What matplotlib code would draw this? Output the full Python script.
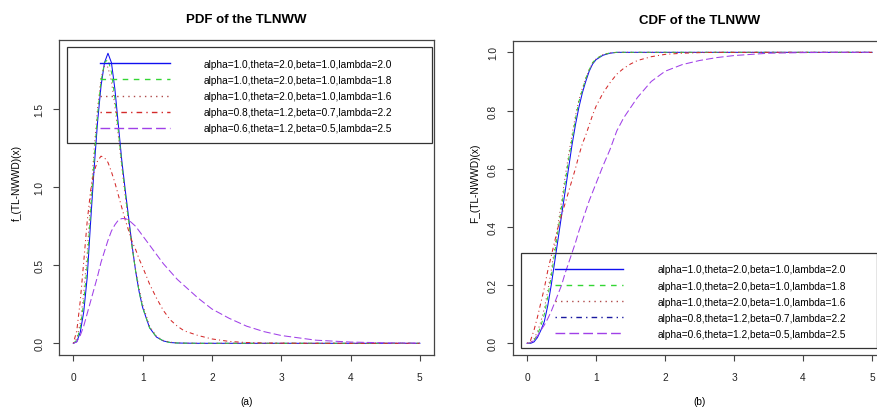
import matplotlib
matplotlib.use("Agg")
import matplotlib.pyplot as plt
from matplotlib.lines import Line2D
from matplotlib.patches import Rectangle

plt.rcParams['font.family'] = ['Liberation Sans', 'DejaVu Sans']

# x grid the values were read at
x = [0.0, 0.05, 0.1, 0.15, 0.2, 0.25, 0.3, 0.35, 0.4, 0.45, 0.5, 0.55, 0.6,
     0.65, 0.7, 0.75, 0.8, 0.85, 0.9, 0.95, 1.0, 1.1, 1.2, 1.3, 1.4, 1.5,
     1.6, 1.8, 2.0, 2.25, 2.5, 2.75, 3.0, 3.5, 4.0, 4.5, 5.0]

labels = ["alpha=1.0,theta=2.0,beta=1.0,lambda=2.0",
          "alpha=1.0,theta=2.0,beta=1.0,lambda=1.8",
          "alpha=1.0,theta=2.0,beta=1.0,lambda=1.6",
          "alpha=0.8,theta=1.2,beta=0.7,lambda=2.2",
          "alpha=0.6,theta=1.2,beta=0.5,lambda=2.5"]

# PDF readings
pdf1 = [0, 0.01, 0.07, 0.2, 0.42, 0.78, 1.12, 1.42, 1.65, 1.8, 1.86, 1.8, 1.63,
        1.4, 1.17, 0.98, 0.8, 0.62, 0.46, 0.33, 0.23, 0.1, 0.04, 0.015, 0.005, 0.002,
        0.001, 0, 0, 0, 0, 0, 0, 0, 0, 0, 0]
pdf2 = [0, 0.02, 0.1, 0.26, 0.5, 0.85, 1.18, 1.47, 1.68, 1.8, 1.82, 1.74, 1.57,
        1.36, 1.15, 0.96, 0.78, 0.61, 0.46, 0.33, 0.23, 0.1, 0.04, 0.015, 0.005, 0.002,
        0.001, 0, 0, 0, 0, 0, 0, 0, 0, 0, 0]
pdf3 = [0, 0.03, 0.13, 0.32, 0.58, 0.92, 1.24, 1.51, 1.7, 1.78, 1.77, 1.68, 1.52,
        1.33, 1.13, 0.94, 0.77, 0.61, 0.47, 0.35, 0.25, 0.11, 0.045, 0.018, 0.007, 0.003,
        0.001, 0, 0, 0, 0, 0, 0, 0, 0, 0, 0]
pdf4 = [0, 0.08, 0.27, 0.52, 0.78, 0.98, 1.1, 1.17, 1.2, 1.19, 1.16, 1.1, 1.03,
        0.95, 0.87, 0.79, 0.72, 0.65, 0.6, 0.54, 0.49, 0.38, 0.29, 0.21, 0.15, 0.11,
        0.08, 0.05, 0.028, 0.012, 0.005, 0.002, 0.001, 0, 0, 0, 0]
pdf5 = [0, 0.01, 0.05, 0.11, 0.19, 0.27, 0.35, 0.43, 0.52, 0.59, 0.66, 0.72, 0.76,
        0.79, 0.8, 0.8, 0.79, 0.77, 0.75, 0.72, 0.69, 0.63, 0.57, 0.51, 0.46, 0.41,
        0.37, 0.29, 0.22, 0.16, 0.11, 0.075, 0.05, 0.02, 0.008, 0.003, 0.001]

# CDF readings
cdf1 = [0, 0.0, 0.005, 0.02, 0.045, 0.075, 0.13, 0.2, 0.28, 0.36, 0.44, 0.52, 0.6,
        0.68, 0.75, 0.81, 0.86, 0.9, 0.935, 0.96, 0.975, 0.99, 0.997, 1, 1, 1,
        1, 1, 1, 1, 1, 1, 1, 1, 1, 1, 1]
cdf2 = [0, 0.002, 0.01, 0.03, 0.06, 0.1, 0.16, 0.23, 0.31, 0.39, 0.47, 0.55, 0.63,
        0.7, 0.77, 0.83, 0.87, 0.91, 0.94, 0.965, 0.978, 0.992, 0.998, 1, 1, 1,
        1, 1, 1, 1, 1, 1, 1, 1, 1, 1, 1]
cdf3 = [0, 0.004, 0.015, 0.04, 0.075, 0.12, 0.18, 0.25, 0.33, 0.41, 0.49, 0.57, 0.645,
        0.715, 0.78, 0.835, 0.875, 0.91, 0.94, 0.963, 0.977, 0.992, 0.998, 1, 1, 1,
        1, 1, 1, 1, 1, 1, 1, 1, 1, 1, 1]
cdf4 = [0, 0.01, 0.045, 0.09, 0.14, 0.19, 0.25, 0.3, 0.35, 0.4, 0.44, 0.48, 0.52,
        0.56, 0.6, 0.645, 0.685, 0.715, 0.75, 0.785, 0.815, 0.86, 0.895, 0.925, 0.945, 0.96,
        0.972, 0.985, 0.993, 0.997, 0.999, 1, 1, 1, 1, 1, 1]
cdf5 = [0, 0.002, 0.01, 0.025, 0.045, 0.063, 0.085, 0.11, 0.14, 0.17, 0.2, 0.24, 0.275,
        0.31, 0.345, 0.385, 0.42, 0.455, 0.49, 0.52, 0.55, 0.61, 0.665, 0.73, 0.775, 0.81,
        0.845, 0.9, 0.935, 0.958, 0.972, 0.982, 0.989, 0.997, 0.999, 1, 1]

# R line types: solid, dashed, dotted, dotdash, longdash
styles = ['-', (0, (4, 4)), (0, (1, 3)), (0, (1, 3, 4, 3)), (0, (7, 3))]
pdf_colors = ['#1010f0', '#33d633', '#b04a4a', '#d42a2a', '#a040e8']
cdf_colors = ['#1010f0', '#33d633', '#b04a4a', '#d42a2a', '#a040e8']
cdf_leg_colors = ['#1010f0', '#33d633', '#b04a4a', '#1a1aa0', '#a040e8']

fig = plt.figure(figsize=(8.78, 4.10), dpi=100)
ax1 = fig.add_axes([0.0677, 0.1317, 0.4263, 0.7683])
ax2 = fig.add_axes([0.5846, 0.1317, 0.4244, 0.7666])

for ys, c, ls in zip([pdf1, pdf2, pdf3, pdf4, pdf5], pdf_colors, styles):
    ax1.plot(x, ys, color=c, linestyle=ls, lw=0.75)
for ys, c, ls in zip([cdf1, cdf2, cdf3, cdf4, cdf5], cdf_colors, styles):
    ax2.plot(x, ys, color=c, linestyle=ls, lw=0.75)

ax1.set_xlim(-0.2, 5.2)
ax1.set_ylim(-0.075, 1.945)
ax1.set_yticks([0.0, 0.5, 1.0, 1.5])
ax2.set_xlim(-0.2, 5.2)
ax2.set_ylim(-0.04, 1.04)
ax2.set_yticks([0.0, 0.2, 0.4, 0.6, 0.8, 1.0])

for ax in (ax1, ax2):
    ax.set_xticks([0, 1, 2, 3, 4, 5])
    ax.set_xticklabels(['0', '1', '2', '3', '4', '5'])
    ax.set_yticklabels(['%.1f' % v for v in ax.get_yticks()])
    ax.tick_params(axis='both', labelsize=7.3, length=4, width=0.8, color='#444444',
                   labelcolor='#222222')
    ax.tick_params(axis='x', pad=8)
    ax.tick_params(axis='y', pad=7, labelrotation=90)
    for lab in ax.get_yticklabels():
        lab.set_va('center')
    for s in ax.spines.values():
        s.set_color('#444444')
        s.set_linewidth(0.9)

ax1.set_title('PDF of the TLNWW', fontsize=9.5, fontweight='bold', pad=13)
ax2.set_title('CDF of the TLNWW', fontsize=9.5, fontweight='bold', pad=13)
ax1.set_ylabel('f_(TL-NWWD)(x)', fontsize=7.3)
ax2.set_ylabel('F_(TL-NWWD)(x)', fontsize=7.3)
ax1.yaxis.set_label_coords(-0.100, 0.55)
ax2.yaxis.set_label_coords(-0.088, 0.55)
ax1.set_xlabel('(a)', fontsize=7.3, labelpad=10)
ax2.set_xlabel('(b)', fontsize=7.3, labelpad=10)

# legends: frame drawn as a box, entries through ax.legend
h1 = [Line2D([], [], color=c, linestyle=ls, lw=1.0) for c, ls in zip(pdf_colors, styles)]
h2 = [Line2D([], [], color=c, linestyle=ls, lw=1.0) for c, ls in zip(cdf_leg_colors, styles)]

ax1.add_patch(Rectangle((0.0195, 0.673), 0.976, 0.304, transform=ax1.transAxes,
                        fill=False, edgecolor='#333333', lw=0.9))
ax1.legend(h1, labels, loc='upper left', bbox_to_anchor=(0.1085, 0.94), frameon=False,
           fontsize=7.3, handlelength=6.9, handletextpad=3.3, labelspacing=0.6,
           borderpad=0, borderaxespad=0)

ax2.add_patch(Rectangle((0.0199, 0.0213), 0.955, 0.303, transform=ax2.transAxes,
                        fill=False, edgecolor='#333333', lw=0.9, zorder=3))
ax2.legend(h2, labels, loc='upper left', bbox_to_anchor=(0.112, 0.288), frameon=False,
           fontsize=7.3, handlelength=6.7, handletextpad=3.4, labelspacing=0.6,
           borderpad=0, borderaxespad=0)

fig.savefig('out.png', dpi=100)
